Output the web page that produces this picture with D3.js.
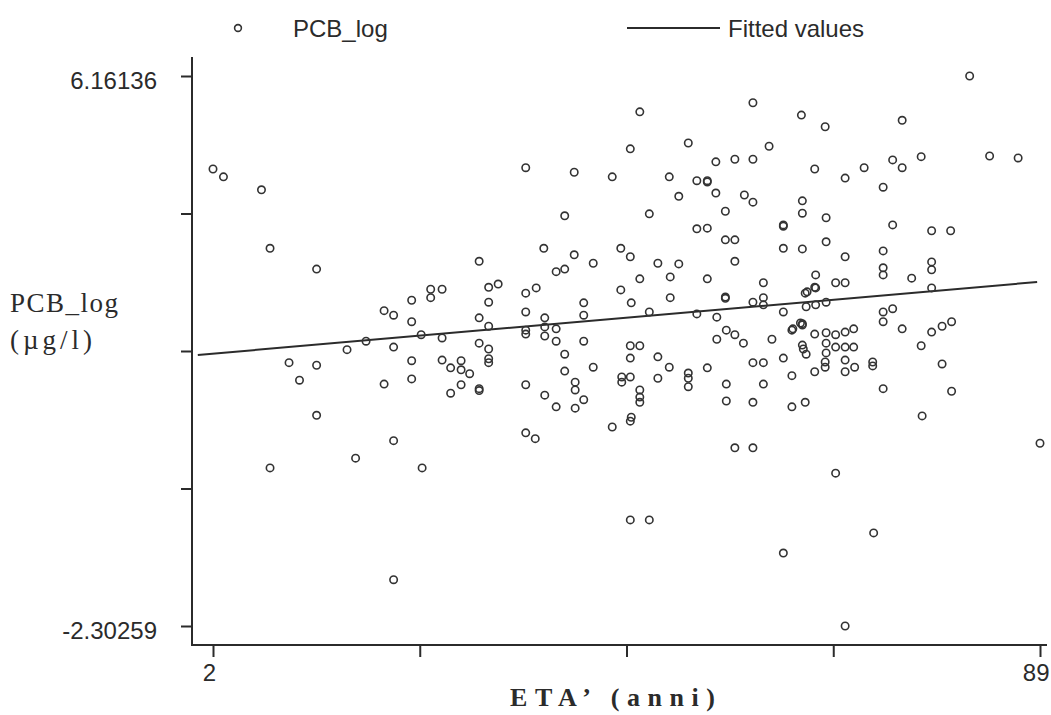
<!DOCTYPE html>
<html>
<head>
<meta charset="utf-8">
<script src="https://cdn.jsdelivr.net/npm/d3@7"></script>
<style>
  body { margin: 0; background: #fff; }
</style>
</head>
<body>
<script>
// PCB_log vs ETA' (anni), scatter + linear fit

const eta = [
  2, 3.1, 7.1, 8.0, 12.9, 10.0, 12.9, 11.1, 12.9, 8.0,
  17.0, 21.0, 24.0, 21.0, 16.1, 18.1, 21.0, 20.0, 21.0, 22.9,
  22.9, 23.9, 26.1, 24.9, 26.1, 24.9, 30.0, 30.0, 30.0, 31.0,
  32.0, 31.0, 31.0, 31.0, 31.0, 31.0, 22.9, 26.1, 28.1, 27.0,
  28.1, 29.0, 20.0, 22.9, 27.0, 28.1, 30.0, 30.0, 34.9, 36.0,
  34.9, 36.9, 34.9, 34.9, 36.9, 36.9, 38.1, 38.1, 39.0, 39.0,
  34.9, 36.9, 38.1, 42.0, 40.1, 40.1, 41.0, 40.1, 34.9, 35.9,
  45.9, 46.9, 45.9, 45.0, 45.0, 45.9, 46.9, 46.9, 46.9, 44.0,
  45.9, 48.8, 50.0, 48.8, 52.0, 52.0, 52.0, 54.0, 56.0, 56.0,
  58.8, 59.9, 59.9, 58.8, 56.9, 58.8, 45.9, 47.9, 44.9, 46.9,
  50.1, 54.0, 59.9, 41.0, 41.0, 46.0, 50.1, 55.9, 55.9, 58.8,
  59.9, 59.9, 62.0, 47.9, 52.9, 55.0, 41.0, 56.0, 56.9, 57.8,
  55.0, 60.8, 62.9, 63.8, 62.0, 62.9, 62.9, 46.0, 46.9, 58.8,
  52.0, 45.9, 34.9, 40.0, 44.0, 50.0, 52.9, 54.0, 54.0, 54.9,
  56.9, 58.8, 60.5, 51.0, 54.9, 57.9, 58.8, 55.9, 39.0, 47.9,
  52.9, 54.0, 55.9, 56.9, 36.8, 40.0, 42.0, 38.1, 39.0, 44.9,
  45.9, 48.8, 51.0, 56.9, 81.6, 74.5, 63.9, 66.4, 65.3, 68.5,
  70.5, 73.5, 74.5, 76.5, 83.7, 86.7, 72.5, 64.0, 64.0, 66.5,
  62.0, 62.0, 73.5, 77.6, 79.6, 62.0, 64.0, 66.5, 68.5, 72.5,
  72.5, 72.5, 75.5, 77.6, 77.6, 77.6, 65.4, 65.4, 64.5, 67.5,
  68.5, 64.4, 65.4, 66.5, 64.0, 64.0, 63.0, 65.3, 66.5, 67.5,
  68.5, 69.4, 64.0, 64.1, 66.5, 66.5, 67.5, 68.5, 69.4, 72.5,
  73.5, 72.5, 74.5, 77.6, 78.7, 79.7, 76.5, 78.7, 71.4, 71.4,
  72.5, 79.7, 76.6, 64.3, 66.4, 66.4, 68.5, 65.3, 68.5, 69.5,
  64.4, 89, 67.5, 71.5, 62.0, 68.5, 64.3, 65.3
];

const pcbLog = [
  4.73, 4.61, 4.41, 3.51, 3.19, 1.75, 1.71, 1.48, 0.94, 0.13,
  0.28, 0.55, 0.13, -1.59, 1.95, 2.08, 1.99, 2.55, 2.48, 2.71,
  2.38, 2.18, 2.13, 2.88, 2.88, 2.75, 3.31, 2.44, 2.05, 2.91,
  2.96, 2.68, 2.31, 1.96, 1.81, 1.75, 1.78, 1.79, 1.78, 1.67,
  1.64, 1.58, 1.42, 1.50, 1.28, 1.41, 1.35, 1.32, 2.82, 2.90,
  2.53, 2.44, 2.25, 2.19, 2.30, 2.16, 2.27, 2.08, 1.88, 1.62,
  1.41, 1.25, 1.07, 1.68, 1.45, 1.33, 1.18, 1.05, 0.67, 0.58,
  2.01, 2.01, 1.82, 1.53, 1.45, 1.53, 1.33, 1.22, 1.14, 0.76,
  0.85, 1.84, 1.68, 1.51, 1.59, 1.51, 1.38, 1.67, 1.42, 1.16,
  1.75, 1.75, 1.42, 1.14, 0.44, 0.44, -0.67, -0.67, 2.87, 3.04,
  3.07, 3.04, 2.98, 2.67, 2.48, 2.67, 2.75, 2.76, 2.74, 2.68,
  2.75, 2.64, 2.53, 2.53, 2.50, 2.45, 2.08, 2.25, 2.18, 2.05,
  2.11, 2.11, 2.25, 2.36, 1.82, 1.55, 1.07, 0.91, 5.61, 5.75,
  5.13, 5.04, 4.75, 4.68, 4.61, 4.61, 4.55, 4.53, 4.55, 4.84,
  4.88, 4.88, 5.08, 4.31, 4.36, 4.33, 4.22, 4.08, 4.01, 4.04,
  3.81, 3.82, 3.64, 3.64, 3.51, 3.41, 3.28, 3.15, 3.19, 3.51,
  3.38, 3.28, 3.27, 3.31, 6.16136, 5.48, 5.56, 5.38, 4.73, 4.59,
  4.75, 4.87, 4.75, 4.92, 4.93, 4.90, 4.45, 4.24, 4.05, 3.98,
  3.85, 3.87, 3.87, 3.78, 3.78, 3.51, 3.50, 3.61, 3.38, 3.47,
  3.21, 3.10, 3.05, 3.30, 3.18, 2.90, 3.10, 2.90, 2.84, 2.98,
  2.98, 2.61, 2.64, 2.68, 2.35, 2.33, 2.27, 2.19, 2.21, 2.18,
  2.22, 2.27, 2.02, 1.96, 2.05, 1.90, 1.99, 1.99, 1.99, 2.53,
  2.58, 2.38, 2.27, 2.22, 2.31, 2.38, 2.01, 1.73, 1.76, 1.70,
  1.35, 1.31, 0.93, 1.14, 1.76, 1.68, 1.79, 1.61, 1.61, 1.68,
  1.88, 0.51, 0.05, -0.87, -1.18, -2.30259, 2.82, 2.91
];

// fitted values (linear fit), endpoints
const fitEta = [0.4, 88.7];
const fitValues = [1.868, 2.991];

const xTicks = [2, 23.75, 45.5, 67.25, 89];
const xTickLabels = ["2", "", "", "", "89"];
const yTicks = [-2.30259, -0.186603, 1.929385, 4.045373, 6.16136];
const yTickLabels = ["-2.30259", "", "", "", "6.16136"];

const width = 1051, height = 715;
const ink = "#2b2b2b";
const sans = "'Liberation Sans', Arial, sans-serif";
const serif = "'Liberation Serif', 'Times New Roman', serif";

const svg = d3.select("body").append("svg")
    .attr("width", width)
    .attr("height", height)
    .style("display", "block")
    .style("background", "#fff");

const x = d3.scaleLinear().domain([2, 89]).range([213, 1040]);
const y = d3.scaleLinear().domain([-2.30259, 6.16136]).range([626, 76]);

const axisX = 192, axisY = 645;

// axis lines
svg.append("line")
    .attr("x1", axisX).attr("x2", axisX)
    .attr("y1", 57).attr("y2", axisY + 1)
    .attr("stroke", ink).attr("stroke-width", 2);
svg.append("line")
    .attr("x1", axisX - 1).attr("x2", 1047)
    .attr("y1", axisY).attr("y2", axisY)
    .attr("stroke", ink).attr("stroke-width", 2);

// y axis
const gy = svg.append("g")
    .attr("transform", `translate(${axisX},0)`)
    .call(d3.axisLeft(y)
        .tickValues(yTicks)
        .tickSize(11)
        .tickPadding(24)
        .tickFormat((d, i) => yTickLabels[i]));
gy.select(".domain").remove();
gy.selectAll(".tick line").attr("stroke", ink).attr("stroke-width", 2);
gy.selectAll(".tick text")
    .attr("fill", ink)
    .attr("dy", "0.5em")
    .style("font-family", sans)
    .style("font-size", "24px");

// x axis
const gx = svg.append("g")
    .attr("transform", `translate(0,${axisY})`)
    .call(d3.axisBottom(x)
        .tickValues(xTicks)
        .tickSize(12)
        .tickPadding(7)
        .tickFormat((d, i) => xTickLabels[i]));
gx.select(".domain").remove();
gx.selectAll(".tick line").attr("stroke", ink).attr("stroke-width", 2);
gx.selectAll(".tick text")
    .attr("fill", ink)
    .style("font-family", sans)
    .style("font-size", "24px");
// keep the end labels inside the frame
gx.selectAll(".tick text")
    .filter((d, i) => i === 0)
    .attr("x", -4);
gx.selectAll(".tick text")
    .filter((d, i) => i === xTicks.length - 1)
    .attr("text-anchor", "end")
    .attr("x", 9);

// fitted line
const fitData = fitEta.map((d, i) => ({ eta: d, v: fitValues[i] }));
svg.append("path")
    .datum(fitData)
    .attr("fill", "none")
    .attr("stroke", ink)
    .attr("stroke-width", 2)
    .attr("d", d3.line().x(d => x(d.eta)).y(d => y(d.v)));

// scatter
const points = eta.map((d, i) => ({ eta: d, v: pcbLog[i] }));
svg.append("g")
    .selectAll("circle")
    .data(points)
    .enter().append("circle")
    .attr("cx", d => x(d.eta))
    .attr("cy", d => y(d.v))
    .attr("r", 3.7)
    .attr("fill", "none")
    .attr("stroke", "#333")
    .attr("stroke-width", 1.6);

// legend
const legend = svg.append("g");
legend.append("circle")
    .attr("cx", 238).attr("cy", 28).attr("r", 3.4)
    .attr("fill", "none").attr("stroke", "#333").attr("stroke-width", 1.6);
legend.append("text")
    .attr("x", 293).attr("y", 37)
    .attr("fill", ink)
    .style("font-family", sans).style("font-size", "24px")
    .text("PCB_log");
legend.append("line")
    .attr("x1", 627).attr("x2", 720)
    .attr("y1", 28).attr("y2", 28)
    .attr("stroke", ink).attr("stroke-width", 2);
legend.append("text")
    .attr("x", 728).attr("y", 37)
    .attr("fill", ink)
    .style("font-family", sans).style("font-size", "24px")
    .text("Fitted values");

// axis titles
svg.append("text")
    .attr("x", 10).attr("y", 312)
    .attr("fill", ink)
    .attr("textLength", 108).attr("lengthAdjust", "spacing")
    .style("font-family", serif).style("font-size", "27px")
    .text("PCB_log");
svg.append("text")
    .attr("x", 10).attr("y", 349)
    .attr("fill", ink)
    .attr("textLength", 82).attr("lengthAdjust", "spacing")
    .style("font-family", serif).style("font-size", "27px")
    .text("(µg/l)");
svg.append("text")
    .attr("x", 510).attr("y", 706)
    .attr("fill", ink)
    .attr("textLength", 205).attr("lengthAdjust", "spacing")
    .style("font-family", serif).style("font-size", "26px")
    .style("font-weight", "bold")
    .text("ETA’ (anni)");
</script>
</body>
</html>
